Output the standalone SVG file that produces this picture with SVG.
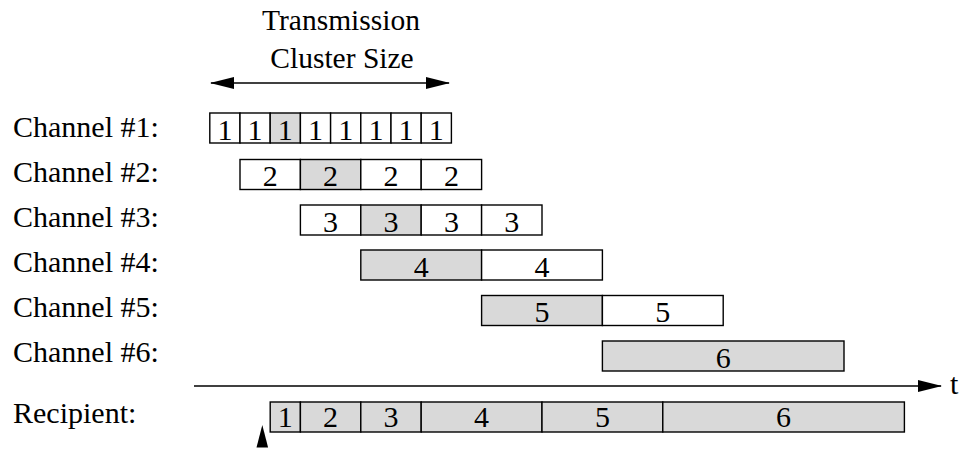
<svg xmlns="http://www.w3.org/2000/svg" width="963" height="463" viewBox="0 0 963 463">
<style>
text{font-family:"Liberation Serif","Times New Roman",serif;font-size:30px;fill:#000}
.n{text-anchor:middle}
.w,.g{stroke:#000;stroke-width:1.4}
.w{fill:#fff}
.g{fill:#d9d9d9}
.ln{stroke:#000;stroke-width:1.6;fill:none}
</style>
<defs>
<marker id="ah" markerWidth="24" markerHeight="12" refX="23" refY="6" orient="auto-start-reverse" markerUnits="userSpaceOnUse">
<path d="M0,0 L24,6 L0,12 Z" fill="#000"/>
</marker>
</defs>
<rect width="963" height="463" fill="#fff"/>
<g id="title">
<text class="n" x="341" y="30" style="font-size:29.5px">Transmission</text>
<text class="n" x="342" y="68" style="font-size:29.5px">Cluster Size</text>
</g>
<g id="labels">
<text x="13" y="137">Channel #1:</text>
<text x="13" y="182">Channel #2:</text>
<text x="13" y="227">Channel #3:</text>
<text x="13" y="272">Channel #4:</text>
<text x="13" y="317">Channel #5:</text>
<text x="13" y="362">Channel #6:</text>
<text x="13" y="423">Recipient:</text>
</g>
<g id="channel1">
<rect class="w" x="209.8" y="113" width="30.2" height="30"/>
<rect class="w" x="240" y="113" width="30.2" height="30"/>
<rect class="g" x="270.2" y="113" width="30.2" height="30"/>
<rect class="w" x="300.4" y="113" width="30.2" height="30"/>
<rect class="w" x="330.6" y="113" width="30.2" height="30"/>
<rect class="w" x="360.8" y="113" width="30.2" height="30"/>
<rect class="w" x="391" y="113" width="30.2" height="30"/>
<rect class="w" x="421.2" y="113" width="30.2" height="30"/>
<text class="n" x="224.9" y="139.5">1</text>
<text class="n" x="255.1" y="139.5">1</text>
<text class="n" x="285.3" y="139.5">1</text>
<text class="n" x="315.5" y="139.5">1</text>
<text class="n" x="345.7" y="139.5">1</text>
<text class="n" x="375.9" y="139.5">1</text>
<text class="n" x="406.1" y="139.5">1</text>
<text class="n" x="436.3" y="139.5">1</text>
</g>
<g id="channel2">
<rect class="w" x="240" y="159.5" width="60.4" height="30"/>
<rect class="g" x="300.4" y="159.5" width="60.4" height="30"/>
<rect class="w" x="360.8" y="159.5" width="60.4" height="30"/>
<rect class="w" x="421.2" y="159.5" width="60.4" height="30"/>
<text class="n" x="270.2" y="186">2</text>
<text class="n" x="330.6" y="186">2</text>
<text class="n" x="391" y="186">2</text>
<text class="n" x="451.4" y="186">2</text>
</g>
<g id="channel3">
<rect class="w" x="300.4" y="205" width="60.4" height="30"/>
<rect class="g" x="360.8" y="205" width="60.4" height="30"/>
<rect class="w" x="421.2" y="205" width="60.4" height="30"/>
<rect class="w" x="481.6" y="205" width="60.4" height="30"/>
<text class="n" x="330.6" y="231.5">3</text>
<text class="n" x="391" y="231.5">3</text>
<text class="n" x="451.4" y="231.5">3</text>
<text class="n" x="511.8" y="231.5">3</text>
</g>
<g id="channel4">
<rect class="g" x="360.8" y="250" width="120.8" height="30"/>
<rect class="w" x="481.6" y="250" width="120.8" height="30"/>
<text class="n" x="421.2" y="276.5">4</text>
<text class="n" x="542" y="276.5">4</text>
</g>
<g id="channel5">
<rect class="g" x="481.6" y="295.5" width="120.8" height="30"/>
<rect class="w" x="602.4" y="295.5" width="120.8" height="30"/>
<text class="n" x="542" y="322">5</text>
<text class="n" x="662.8" y="322">5</text>
</g>
<g id="channel6">
<rect class="g" x="602.4" y="341" width="241.6" height="30"/>
<text class="n" x="723.2" y="367.5">6</text>
</g>
<g id="recipient">
<rect class="g" x="270.2" y="402" width="30.2" height="30"/>
<rect class="g" x="300.4" y="402" width="60.4" height="30"/>
<rect class="g" x="360.8" y="402" width="60.4" height="30"/>
<rect class="g" x="421.2" y="402" width="120.8" height="30"/>
<rect class="g" x="542" y="402" width="120.8" height="30"/>
<rect class="g" x="662.8" y="402" width="241.6" height="30"/>
<text class="n" x="285.3" y="426.5">1</text>
<text class="n" x="330.6" y="426.5">2</text>
<text class="n" x="391" y="426.5">3</text>
<text class="n" x="481.6" y="426.5">4</text>
<text class="n" x="602.4" y="426.5">5</text>
<text class="n" x="783.6" y="426.5">6</text>
</g>
<g id="connectors">
<line class="ln" x1="211" y1="83" x2="449" y2="83" marker-start="url(#ah)" marker-end="url(#ah)"/>
<line class="ln" x1="194" y1="386" x2="941" y2="386" marker-end="url(#ah)"/>
<polygon points="262.3,425 256.5,447.5 268.1,447.5" fill="#000"/>
</g>
<g id="axis-label">
<text x="950" y="394">t</text>
</g>
</svg>
